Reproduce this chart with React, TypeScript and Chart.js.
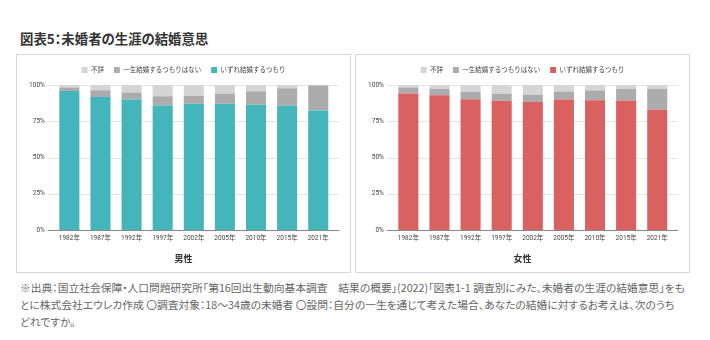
import React, { useEffect, useRef } from 'react';
import { Chart, registerables } from 'chart.js';

Chart.register(...registerables);

const years = ['1982年', '1987年', '1992年', '1997年', '2002年', '2005年', '2010年', '2015年', '2021年'];
const seriesLabels = ['いずれ結婚するつもり', '一生結婚するつもりはない', '不詳'];

const maleWill = [95.9, 91.8, 90.0, 85.9, 87.0, 87.0, 86.3, 85.7, 82.5];
const maleNever = [2.3, 4.5, 4.9, 6.3, 5.4, 7.1, 9.4, 12.0, 17.2];
const maleUnknown = [1.8, 3.7, 5.1, 7.8, 7.6, 5.9, 4.3, 2.3, 0.3];

const femaleWill = [94.2, 92.9, 90.2, 89.1, 88.3, 90.0, 89.4, 89.3, 83.0];
const femaleNever = [4.1, 4.6, 5.2, 4.9, 5.0, 5.6, 6.8, 8.0, 14.3];
const femaleUnknown = [1.7, 2.5, 4.6, 6.0, 6.7, 4.4, 3.8, 2.7, 2.7];

const yStep = 25;

const TEAL = '#43b5bb';
const RED = '#d9615f';
const GRAY = '#acacae';
const LIGHT = '#d5d5d5';
const FONT = "Roboto, 'Noto Sans CJK JP', sans-serif";

const gridPlugin = {
  id: 'hgrid',
  beforeDatasetsDraw(chart: any) {
    const { ctx, chartArea, scales } = chart;
    const y = scales.y;
    ctx.save();
    ctx.lineWidth = 1;
    ctx.strokeStyle = '#e4e4e4';
    y.ticks.forEach((t: any) => {
      if (t.value === 0) return;
      const py = Math.round(y.getPixelForValue(t.value)) + 0.5;
      ctx.beginPath();
      ctx.moveTo(chartArea.left - 6, py);
      ctx.lineTo(chartArea.right + 5.5, py);
      ctx.stroke();
    });
    ctx.restore();
  },
  afterDatasetsDraw(chart: any) {
    const { ctx, chartArea, scales } = chart;
    const y = scales.y;
    const py = Math.round(y.getPixelForValue(0)) + 0.5;
    ctx.save();
    ctx.lineWidth = 1;
    ctx.strokeStyle = '#8a8a8a';
    ctx.beginPath();
    ctx.moveTo(chartArea.left - 6, py);
    ctx.lineTo(chartArea.right + 5.5, py);
    ctx.stroke();
    ctx.restore();
  },
};

const legendPadPlugin = {
  id: 'legendPad',
  afterInit(chart: any) {
    const lg = chart.legend;
    if (!lg) return;
    const fit = lg.fit;
    lg.fit = function () {
      fit.call(this);
      this.height += 1.75;
    };
  },
};

function StackChart({ will, never, unknown, color, title }: any) {
  const ref = useRef<HTMLCanvasElement>(null);
  useEffect(() => {
    const chart = new Chart(ref.current as HTMLCanvasElement, {
      type: 'bar',
      data: {
        labels: years,
        datasets: [
          { label: seriesLabels[0], data: will, backgroundColor: color },
          { label: seriesLabels[1], data: never, backgroundColor: GRAY },
          { label: seriesLabels[2], data: unknown, backgroundColor: LIGHT },
        ],
      },
      options: {
        animation: false,
        responsive: false,
        maintainAspectRatio: false,
        devicePixelRatio: 1,
        layout: { padding: { top: 1.75, left: 0, right: 0, bottom: 0 } },
        datasets: { bar: { barPercentage: 0.645, categoryPercentage: 1 } },
        plugins: {
          legend: {
            position: 'top',
            reverse: true,
            labels: {
              boxWidth: 6,
              boxHeight: 6,
              padding: 10,
              color: '#444',
              font: { family: FONT, size: 6.5 },
            },
          },
          title: {
            display: true,
            position: 'bottom',
            text: title,
            color: '#333',
            font: { family: FONT, size: 9, weight: 'bold' },
            padding: { top: 8.8, bottom: 6.6 },
          },
          tooltip: { enabled: false },
        },
        scales: {
          x: {
            stacked: true,
            grid: { display: false, drawTicks: false },
            border: { display: false },
            ticks: {
              color: '#444',
              font: { family: FONT, size: 6.5 },
              padding: 4,
              maxRotation: 0,
              autoSkip: false,
            },
          },
          y: {
            stacked: true,
            min: 0,
            max: 100,
            grid: { display: false, drawTicks: false },
            border: { display: false },
            ticks: {
              stepSize: yStep,
              color: '#444',
              font: { family: FONT, size: 6.5 },
              padding: 9,
              callback: (v: any) => v + '%',
            },
            afterFit: (s: any) => {
              s.width = 36.8;
            },
          },
          yRight: {
            position: 'right',
            display: true,
            grid: { display: false, drawTicks: false },
            border: { display: false },
            ticks: { display: false },
            afterFit: (s: any) => {
              s.width = 16.2;
            },
          },
        },
      } as any,
      plugins: [gridPlugin, legendPadPlugin],
    });
    return () => chart.destroy();
  }, []);
  return <canvas ref={ref} width={333} height={217} style={{ display: 'block', width: 333, height: 217 }} />;
}

const panelStyle = (left: number): React.CSSProperties => ({
  position: 'absolute',
  left,
  top: 54,
  width: 333,
  height: 217,
  border: '1px solid #d8d8d8',
  background: '#fff',
});

export default function App() {
  return (
    <div style={{ position: 'absolute', left: 0, top: 0, width: 710, height: 340, background: '#fff', overflow: 'hidden' }}>
      <div
        style={{
          position: 'absolute',
          left: 20,
          top: 30,
          fontFamily: "'Noto Sans CJK JP', sans-serif",
          fontWeight: 700,
          fontSize: 13.4,
          lineHeight: '16px',
          color: '#333',
          whiteSpace: 'nowrap',
          fontFeatureSettings: '"palt"',
        }}
      >
        図表5：未婚者の生涯の結婚意思
      </div>
      <div style={panelStyle(16)}>
        <StackChart will={maleWill} never={maleNever} unknown={maleUnknown} color={TEAL} title="男性" />
      </div>
      <div style={panelStyle(355)}>
        <StackChart will={femaleWill} never={femaleNever} unknown={femaleUnknown} color={RED} title="女性" />
      </div>
      <div
        style={{
          position: 'absolute',
          left: 20,
          top: 279,
          fontFamily: "'Noto Sans CJK JP', sans-serif",
          fontSize: 10.75,
          lineHeight: '17px',
          color: '#666',
          whiteSpace: 'nowrap',
          fontFeatureSettings: '"palt"',
        }}
      >
        <div>※出典：国立社会保障・人口問題研究所「第16回出生動向基本調査　結果の概要」(2022)「図表1-1 調査別にみた、未婚者の生涯の結婚意思」をも</div>
        <div>とに株式会社エウレカ作成 〇調査対象：18〜34歳の未婚者 〇設問：自分の一生を通じて考えた場合、あなたの結婚に対するお考えは、次のうち</div>
        <div>どれですか。</div>
      </div>
    </div>
  );
}
